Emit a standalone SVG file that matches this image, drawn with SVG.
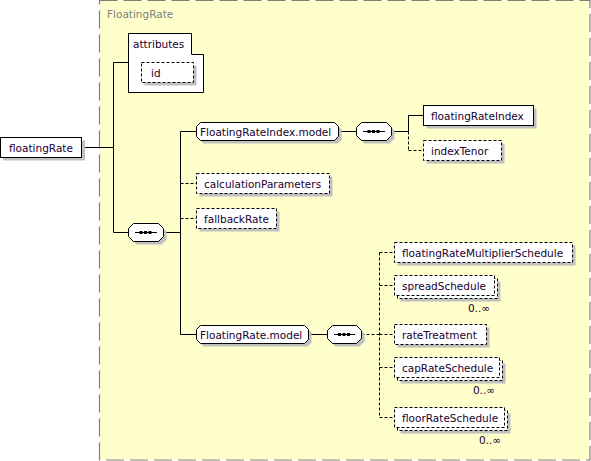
<svg xmlns="http://www.w3.org/2000/svg" width="591" height="461" viewBox="0 0 591 461">
<style>
.t{font-family:"DejaVu Sans","Liberation Sans",sans-serif;font-size:10.5px;fill:#200030}
.lbl{font-family:"DejaVu Sans","Liberation Sans",sans-serif;font-size:10.5px;fill:#808080}
.box{fill:#fff;stroke:#000;stroke-width:1}
.dbox{fill:#fff;stroke:#000;stroke-width:1;stroke-dasharray:3 2}
.sh{fill:#c0c0c0}
.c{fill:none;stroke:#000;stroke-width:1}
.dc{fill:none;stroke:#000;stroke-width:1;stroke-dasharray:3 2}
</style>
<rect x="99.5" y="0.5" width="490.5" height="459.5" fill="#ffffcc" stroke="#808080" stroke-width="1.2" stroke-dasharray="18 6"/>
<text class="lbl" x="107" y="18">FloatingRate</text>

<g id="connectors">
<line class="c" x1="82" y1="147.5" x2="113.5" y2="147.5"/>
<line class="c" x1="113.5" y1="62.5" x2="113.5" y2="232.5"/>
<line class="c" x1="113.5" y1="62.5" x2="128.5" y2="62.5"/>
<line class="c" x1="113.5" y1="232.5" x2="128.5" y2="232.5"/>
<line class="c" x1="163.5" y1="232.5" x2="180.5" y2="232.5"/>
<line class="c" x1="180.5" y1="131.5" x2="180.5" y2="334.5"/>
<line class="c" x1="180.5" y1="131.5" x2="196.5" y2="131.5"/>
<line class="dc" x1="180.5" y1="183.5" x2="196.5" y2="183.5"/>
<line class="dc" x1="180.5" y1="218.5" x2="196.5" y2="218.5"/>
<line class="c" x1="180.5" y1="334.5" x2="196.5" y2="334.5"/>
<line class="c" x1="338.5" y1="131.5" x2="356.5" y2="131.5"/>
<line class="c" x1="391.5" y1="131.5" x2="408.5" y2="131.5"/>
<line class="c" x1="408.5" y1="115.5" x2="408.5" y2="131.5"/>
<line class="dc" x1="408.5" y1="131.5" x2="408.5" y2="150.5"/>
<line class="c" x1="408.5" y1="115.5" x2="423.5" y2="115.5"/>
<line class="dc" x1="408.5" y1="150.5" x2="423.5" y2="150.5"/>
<line class="c" x1="308.5" y1="334.5" x2="327.5" y2="334.5"/>
<line class="dc" x1="361.5" y1="334.5" x2="379.5" y2="334.5"/>
<line class="dc" x1="379.5" y1="252.5" x2="379.5" y2="417.5"/>
<line class="dc" x1="379.5" y1="252.5" x2="394.5" y2="252.5"/>
<line class="dc" x1="379.5" y1="285.5" x2="394.5" y2="285.5"/>
<line class="dc" x1="379.5" y1="334.5" x2="394.5" y2="334.5"/>
<line class="dc" x1="379.5" y1="367.5" x2="394.5" y2="367.5"/>
<line class="dc" x1="379.5" y1="417.5" x2="394.5" y2="417.5"/>
</g>

<g id="floatingRate">
<rect class="sh" x="3" y="140.5" width="82" height="20"/>
<rect class="box" x="0.5" y="137.5" width="81" height="20"/>
<text class="t" x="9" y="151.5">floatingRate</text>
</g>

<g id="attributes">
<path class="box" d="M128.5,33.5 H191.5 V54.5 H203.5 V92.5 H128.5 Z"/>
<text class="t" x="133" y="47.5">attributes</text>
</g>

<g id="id">
<rect class="sh" x="144.5" y="65.5" width="52" height="20"/>
<rect class="dbox" x="141.5" y="62.5" width="52" height="20"/>
<text class="t" x="151" y="76.5">id</text>
</g>

<g id="seq-main">
<path class="sh" d="M136.5,226.5 H161.5 L166.5,231.5 V239.5 L161.5,244.5 H136.5 L131.5,239.5 V231.5 Z"/>
<path class="box" d="M133.5,223.5 H158.5 L163.5,228.5 V236.5 L158.5,241.5 H133.5 L128.5,236.5 V228.5 Z"/>
<line class="c" x1="135" y1="232.5" x2="157" y2="232.5"/>
<rect x="139.5" y="231" width="3" height="3" fill="#000"/>
<rect x="144" y="231" width="3" height="3" fill="#000"/>
<rect x="148.5" y="231" width="3" height="3" fill="#000"/>
</g>

<g id="FloatingRateIndex.model">
<path class="sh" d="M203.5,125.5 H337.5 L341.5,129.5 V139.5 L337.5,143.5 H203.5 L199.5,139.5 V129.5 Z"/>
<path class="box" d="M200.5,122.5 H334.5 L338.5,126.5 V136.5 L334.5,140.5 H200.5 L196.5,136.5 V126.5 Z"/>
<text class="t" x="200" y="135.5">FloatingRateIndex.model</text>
</g>

<g id="seq-index">
<path class="sh" d="M364.5,125.5 H389.5 L394.5,130.5 V138.5 L389.5,143.5 H364.5 L359.5,138.5 V130.5 Z"/>
<path class="box" d="M361.5,122.5 H386.5 L391.5,127.5 V135.5 L386.5,140.5 H361.5 L356.5,135.5 V127.5 Z"/>
<line class="c" x1="363" y1="131.5" x2="385" y2="131.5"/>
<rect x="367.5" y="130" width="3" height="3" fill="#000"/>
<rect x="372" y="130" width="3" height="3" fill="#000"/>
<rect x="376.5" y="130" width="3" height="3" fill="#000"/>
</g>

<g id="floatingRateIndex">
<rect class="sh" x="426.5" y="108.5" width="110" height="20"/>
<rect class="box" x="423.5" y="105.5" width="110" height="20"/>
<text class="t" x="431" y="119.5">floatingRateIndex</text>
</g>

<g id="indexTenor">
<rect class="sh" x="426.5" y="143.5" width="78" height="20"/>
<rect class="dbox" x="423.5" y="140.5" width="78" height="20"/>
<text class="t" x="431" y="154.5">indexTenor</text>
</g>

<g id="calculationParameters">
<rect class="sh" x="199.5" y="176.5" width="133" height="20"/>
<rect class="dbox" x="196.5" y="173.5" width="133" height="20"/>
<text class="t" x="204" y="187.5">calculationParameters</text>
</g>

<g id="fallbackRate">
<rect class="sh" x="199.5" y="211.5" width="80" height="20"/>
<rect class="dbox" x="196.5" y="208.5" width="80" height="20"/>
<text class="t" x="204" y="222.5">fallbackRate</text>
</g>

<g id="FloatingRate.model">
<path class="sh" d="M203.5,328.5 H307.5 L311.5,332.5 V342.5 L307.5,346.5 H203.5 L199.5,342.5 V332.5 Z"/>
<path class="box" d="M200.5,325.5 H304.5 L308.5,329.5 V339.5 L304.5,343.5 H200.5 L196.5,339.5 V329.5 Z"/>
<text class="t" x="200" y="338.5">FloatingRate.model</text>
</g>

<g id="seq-rate">
<path class="sh" d="M335.5,328.5 H359.5 L364.5,333.5 V341.5 L359.5,346.5 H335.5 L330.5,341.5 V333.5 Z"/>
<path class="box" d="M332.5,325.5 H356.5 L361.5,330.5 V338.5 L356.5,343.5 H332.5 L327.5,338.5 V330.5 Z"/>
<line class="c" x1="334" y1="334.5" x2="355" y2="334.5"/>
<rect x="338" y="333" width="3" height="3" fill="#000"/>
<rect x="342.5" y="333" width="3" height="3" fill="#000"/>
<rect x="347" y="333" width="3" height="3" fill="#000"/>
</g>

<g id="floatingRateMultiplierSchedule">
<rect class="sh" x="397.5" y="245.5" width="178" height="20"/>
<rect class="dbox" x="394.5" y="242.5" width="178" height="20"/>
<text class="t" x="402" y="256.5">floatingRateMultiplierSchedule</text>
</g>

<g id="spreadSchedule">
<rect class="sh" x="400.5" y="281.5" width="100" height="20"/>
<rect class="dbox" x="397.5" y="278.5" width="100" height="20"/>
<rect class="dbox" x="394.5" y="275.5" width="100" height="20"/>
<text class="t" x="402" y="289.5">spreadSchedule</text>
<text class="t" x="490" y="312" text-anchor="end">0..∞</text>
</g>

<g id="rateTreatment">
<rect class="sh" x="397.5" y="327.5" width="92" height="20"/>
<rect class="dbox" x="394.5" y="324.5" width="92" height="20"/>
<text class="t" x="402" y="338.5">rateTreatment</text>
</g>

<g id="capRateSchedule">
<rect class="sh" x="400.5" y="363.5" width="105" height="20"/>
<rect class="dbox" x="397.5" y="360.5" width="105" height="20"/>
<rect class="dbox" x="394.5" y="357.5" width="105" height="20"/>
<text class="t" x="402" y="371.5">capRateSchedule</text>
<text class="t" x="495" y="394" text-anchor="end">0..∞</text>
</g>

<g id="floorRateSchedule">
<rect class="sh" x="400.5" y="413.5" width="110" height="20"/>
<rect class="dbox" x="397.5" y="410.5" width="110" height="20"/>
<rect class="dbox" x="394.5" y="407.5" width="110" height="20"/>
<text class="t" x="402" y="421.5">floorRateSchedule</text>
<text class="t" x="501" y="444" text-anchor="end">0..∞</text>
</g>
</svg>
